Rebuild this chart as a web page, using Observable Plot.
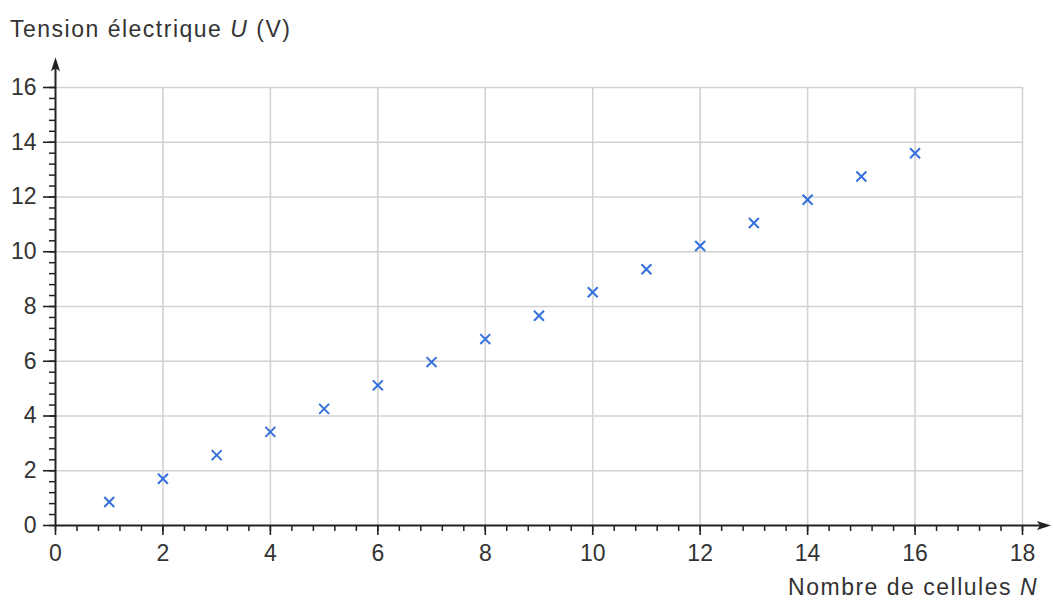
<!DOCTYPE html>
<html>
<head>
<meta charset="utf-8">
<script src="https://cdn.jsdelivr.net/npm/d3@7"></script>
<script src="https://cdn.jsdelivr.net/npm/@observablehq/plot@0.6"></script>
<style>
  html, body { margin: 0; padding: 0; background: #fff; }
  #wrap { position: relative; width: 1053px; height: 601px; font-family: "Liberation Sans", Arial, sans-serif; color: #333; }
  #title { position: absolute; left: 10px; top: 16px; font-size: 23px; letter-spacing: 1.5px; white-space: nowrap; }
  #xlabel { position: absolute; right: 15px; top: 574px; font-size: 23px; letter-spacing: 1.5px; white-space: nowrap; }
  #chart { position: absolute; left: 0; top: 0; }
</style>
</head>
<body>
<div id="wrap">
  <div id="chart"></div>
  <div id="title">Tension électrique <i>U</i> (V)</div>
  <div id="xlabel">Nombre de cellules <i>N</i></div>
</div>
<script>
// Data
const cells = [1, 2, 3, 4, 5, 6, 7, 8, 9, 10, 11, 12, 13, 14, 15, 16];
const tension = [0.86, 1.71, 2.57, 3.42, 4.26, 5.12, 5.97, 6.81, 7.66, 8.52, 9.36, 10.21, 11.05, 11.9, 12.75, 13.6];
const xTicks = [0, 2, 4, 6, 8, 10, 12, 14, 16, 18];
const yTicks = [0, 2, 4, 6, 8, 10, 12, 14, 16];

const points = cells.map((n, i) => ({N: n, U: tension[i]}));
const xMinor = d3.range(0, 45 + 1).map(i => +(i * 0.4).toFixed(2));
const yMinor = d3.range(0, 40 + 1).map(i => +(i * 0.4).toFixed(2));

const arrowHead = {
  draw(ctx) {
    ctx.moveTo(0, -7);
    ctx.lineTo(4.5, 7);
    ctx.lineTo(0, 4);
    ctx.lineTo(-4.5, 7);
    ctx.closePath();
  }
};

const axisColor = "#222";
const chart = Plot.plot({
  width: 1053,
  height: 601,
  marginLeft: 55,
  marginRight: 31,
  marginTop: 87,
  marginBottom: 76,
  style: {fontFamily: "Liberation Sans, Arial, sans-serif", background: "transparent"},
  x: {domain: [0, 18]},
  y: {domain: [0, 16]},
  marks: [
    // grid
    Plot.ruleX(xTicks.filter(d => d > 0), {y1: 0, y2: 16, stroke: "#d2d2d2", strokeWidth: 1.6}),
    Plot.ruleY(yTicks.filter(d => d > 0), {x1: 0, x2: 18, stroke: "#d2d2d2", strokeWidth: 1.6}),
    // minor ticks
    Plot.axisX(xMinor, {tickSize: 6, text: null, color: axisColor, strokeWidth: 1.5}),
    Plot.axisY(yMinor, {tickSize: 6, text: null, color: axisColor, strokeWidth: 1.5}),
    // major ticks + labels
    Plot.axisX(xTicks, {tickSize: 10, tickPadding: 9, fontSize: 23, color: axisColor, fill: "#333", strokeWidth: 1.6, label: null}),
    Plot.axisY(yTicks, {tickSize: 12, tickPadding: 7, fontSize: 23, color: axisColor, fill: "#333", strokeWidth: 1.6, label: null}),
    // axis lines with arrowheads
    Plot.ruleY([0], {x1: 0, x2: 18.4, stroke: axisColor, strokeWidth: 2}),
    Plot.ruleX([0], {y1: 0, y2: 16.85, stroke: axisColor, strokeWidth: 2}),
    Plot.dot([{x: 18.4, y: 0}], {x: "x", y: "y", symbol: arrowHead, fill: axisColor, stroke: "none", rotate: 90, r: 5}),
    Plot.dot([{x: 0, y: 16.85}], {x: "x", y: "y", symbol: arrowHead, fill: axisColor, stroke: "none", r: 5}),
    // data
    Plot.dot(points, {x: "N", y: "U", symbol: "times", r: 4.6, stroke: "#3470dc", strokeWidth: 2})
  ]
});
document.getElementById("chart").appendChild(chart);
</script>
</body>
</html>
